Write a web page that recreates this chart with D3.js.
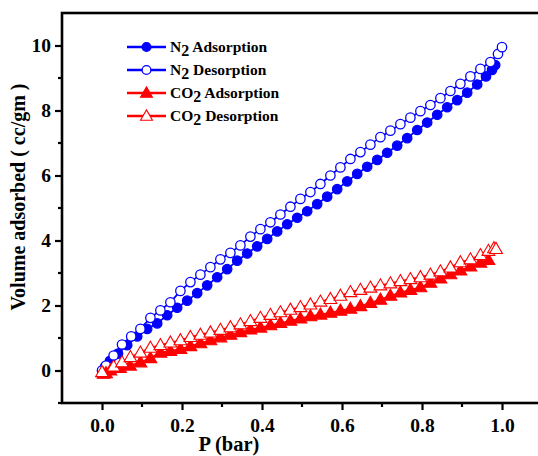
<!DOCTYPE html>
<html>
<head>
<meta charset="utf-8">
<script src="https://cdn.jsdelivr.net/npm/d3@7"></script>
<style>
  body { margin: 0; background: #fff; }
  svg { display: block; }
  text { font-family: "Liberation Serif", "Times New Roman", serif; font-weight: bold; }
</style>
</head>
<body>
<div id="chart"></div>
<script>
// N2 adsorption (filled circles)
const n2AdsP = [0.003, 0.008, 0.02, 0.04, 0.063, 0.088, 0.113, 0.138, 0.163, 0.188, 0.213, 0.238, 0.263, 0.288, 0.313, 0.338, 0.363, 0.388, 0.413, 0.438, 0.463, 0.488, 0.513, 0.538, 0.563, 0.588, 0.613, 0.638, 0.663, 0.688, 0.713, 0.738, 0.763, 0.788, 0.813, 0.838, 0.863, 0.888, 0.913, 0.938, 0.96, 0.975, 0.983];
const n2AdsV = [0.02, 0.12, 0.3, 0.52, 0.78, 1.05, 1.28, 1.45, 1.7, 1.93, 2.15, 2.38, 2.62, 2.87, 3.12, 3.38, 3.6, 3.82, 4.05, 4.28, 4.5, 4.7, 4.9, 5.12, 5.35, 5.58, 5.82, 6.05, 6.27, 6.48, 6.7, 6.92, 7.15, 7.4, 7.63, 7.87, 8.1, 8.32, 8.55, 8.8, 9.05, 9.25, 9.4];

// N2 desorption (open circles)
const n2DesP = [0.0, 0.01, 0.029, 0.05, 0.073, 0.096, 0.121, 0.146, 0.171, 0.196, 0.221, 0.246, 0.271, 0.296, 0.321, 0.346, 0.371, 0.396, 0.421, 0.446, 0.471, 0.496, 0.521, 0.546, 0.571, 0.596, 0.621, 0.646, 0.671, 0.696, 0.721, 0.746, 0.771, 0.796, 0.821, 0.846, 0.871, 0.896, 0.921, 0.946, 0.971, 0.99, 1.0];
const n2DesV = [0.0, 0.15, 0.46, 0.8, 1.05, 1.28, 1.62, 1.85, 2.1, 2.45, 2.72, 2.95, 3.18, 3.42, 3.62, 3.85, 4.12, 4.35, 4.56, 4.8, 5.04, 5.28, 5.49, 5.74, 6.0, 6.25, 6.51, 6.72, 6.95, 7.18, 7.38, 7.58, 7.78, 7.98, 8.17, 8.38, 8.6, 8.82, 9.05, 9.28, 9.49, 9.74, 9.95];

// CO2 adsorption (filled triangles)
const co2AdsP = [0.004, 0.01, 0.021, 0.045, 0.07, 0.096, 0.121, 0.146, 0.171, 0.196, 0.221, 0.246, 0.271, 0.296, 0.321, 0.346, 0.371, 0.396, 0.421, 0.446, 0.471, 0.496, 0.521, 0.546, 0.571, 0.596, 0.621, 0.646, 0.671, 0.696, 0.721, 0.746, 0.771, 0.796, 0.821, 0.846, 0.871, 0.896, 0.921, 0.946, 0.966];
const co2AdsV = [-0.1, -0.08, 0.0, 0.08, 0.15, 0.25, 0.38, 0.55, 0.6, 0.66, 0.75, 0.84, 0.93, 1.02, 1.1, 1.18, 1.26, 1.32, 1.39, 1.46, 1.53, 1.6, 1.67, 1.72, 1.78, 1.84, 1.9, 1.98, 2.08, 2.18, 2.3, 2.4, 2.48, 2.56, 2.7, 2.83, 2.96, 3.08, 3.2, 3.32, 3.4];

// CO2 desorption (open triangles)
const co2DesP = [0.0, 0.029, 0.05, 0.071, 0.096, 0.121, 0.146, 0.171, 0.196, 0.221, 0.246, 0.271, 0.296, 0.321, 0.346, 0.371, 0.396, 0.421, 0.446, 0.471, 0.496, 0.521, 0.546, 0.571, 0.596, 0.621, 0.646, 0.671, 0.696, 0.721, 0.746, 0.771, 0.796, 0.821, 0.846, 0.871, 0.896, 0.921, 0.946, 0.966, 0.98, 0.985];
const co2DesV = [-0.05, 0.12, 0.25, 0.41, 0.55, 0.7, 0.78, 0.86, 0.93, 1.03, 1.1, 1.17, 1.25, 1.33, 1.42, 1.52, 1.62, 1.71, 1.79, 1.87, 1.95, 2.03, 2.12, 2.2, 2.3, 2.41, 2.48, 2.55, 2.62, 2.68, 2.75, 2.81, 2.87, 2.95, 3.05, 3.17, 3.33, 3.42, 3.55, 3.68, 3.76, 3.74];

const xMajor = [0.0, 0.2, 0.4, 0.6, 0.8, 1.0];
const xMinor = [0.1, 0.3, 0.5, 0.7, 0.9];
const yMajor = [0, 2, 4, 6, 8, 10];
const yMinor = [-1, 1, 3, 5, 7, 9];

const series = [
  { name: "N", sub: "2", rest: " Adsorption", P: n2AdsP, V: n2AdsV, color: "#0000ff", shape: "circle", filled: true },
  { name: "N", sub: "2", rest: " Desorption", P: n2DesP, V: n2DesV, color: "#0000ff", shape: "circle", filled: false },
  { name: "CO", sub: "2", rest: " Adsorption", P: co2AdsP, V: co2AdsV, color: "#ff0000", shape: "triangle", filled: true },
  { name: "CO", sub: "2", rest: " Desorption", P: co2DesP, V: co2DesV, color: "#ff0000", shape: "triangle", filled: false }
];

const W = 538, H = 456;
const margin = { left: 62, top: 13, right: -4, bottom: 53 };

const svg = d3.select("#chart").append("svg")
  .attr("width", W)
  .attr("height", H);

const x = d3.scaleLinear().domain([-0.1, 1.1]).range([margin.left, W - margin.right]);
const y = d3.scaleLinear().domain([-1, 11]).range([H - margin.bottom, margin.top]);

function drawMarker(g, s, cx, cy, size) {
  if (s.shape === "circle") {
    g.append("circle")
      .attr("cx", cx).attr("cy", cy).attr("r", size)
      .attr("fill", s.filled ? s.color : "#fff")
      .attr("stroke", s.color)
      .attr("stroke-width", 1.3);
  } else {
    const sym = d3.symbol().type(d3.symbolTriangle).size(size * size * 3.2);
    g.append("path")
      .attr("transform", `translate(${cx},${cy + 0.8})`)
      .attr("d", sym())
      .attr("fill", s.filled ? s.color : "#fff")
      .attr("stroke", s.color)
      .attr("stroke-width", 1.1);
  }
}

// 数据曲线
const plot = svg.append("g");
series.forEach(s => {
  const pts = s.P.map((p, i) => [p, s.V[i]]);
  const line = d3.line().x(d => x(d[0])).y(d => y(d[1]));
  plot.append("path")
    .attr("d", line(pts))
    .attr("fill", "none")
    .attr("stroke", s.color)
    .attr("stroke-width", 1.8);
});
series.forEach(s => {
  const g = plot.append("g");
  s.P.forEach((p, i) => drawMarker(g, s, x(p), y(s.V[i]), 4.7));
});

// 坐标轴
const axisStroke = 2.6;
const xAxis = svg.append("g")
  .attr("transform", `translate(0,${y(-1)})`)
  .call(d3.axisBottom(x).tickValues(xMajor).tickSize(7).tickPadding(8).tickFormat(d3.format(".1f")));
xAxis.selectAll("text").attr("font-size", 19.5).attr("fill", "#000").attr("font-family", "Liberation Serif, serif").attr("font-weight", "bold");
xAxis.select(".domain").remove();
xAxis.selectAll("line").attr("stroke-width", 2.2);
svg.append("g")
  .selectAll("line").data(xMinor).join("line")
  .attr("x1", d => x(d)).attr("x2", d => x(d))
  .attr("y1", y(-1)).attr("y2", y(-1) + 4)
  .attr("stroke", "#000").attr("stroke-width", 2.2);

const yAxis = svg.append("g")
  .attr("transform", `translate(${x(-0.1)},0)`)
  .call(d3.axisLeft(y).tickValues(yMajor).tickSize(7).tickPadding(4));
yAxis.selectAll("text").attr("font-size", 19.5).attr("fill", "#000").attr("font-family", "Liberation Serif, serif").attr("font-weight", "bold");
yAxis.select(".domain").remove();
yAxis.selectAll("line").attr("stroke-width", 2.2);
svg.append("g")
  .selectAll("line").data(yMinor).join("line")
  .attr("x1", x(-0.1) - 4).attr("x2", x(-0.1))
  .attr("y1", d => y(d)).attr("y2", d => y(d))
  .attr("stroke", "#000").attr("stroke-width", 2.2);

// 边框
svg.append("rect")
  .attr("x", x(-0.1)).attr("y", y(11))
  .attr("width", x(1.1) - x(-0.1))
  .attr("height", y(-1) - y(11))
  .attr("fill", "none")
  .attr("stroke", "#000")
  .attr("stroke-width", axisStroke);

// 轴标题
svg.append("text")
  .attr("x", 229).attr("y", 451)
  .attr("text-anchor", "middle")
  .attr("font-size", 20.5)
  .text("P (bar)");

svg.append("text")
  .attr("transform", "translate(25,197) rotate(-90)")
  .attr("text-anchor", "middle")
  .attr("font-size", 20)
  .text("Volume adsorbed ( cc/gm )");

// 图例
const legend = svg.append("g");
const legendY = [47, 70, 93, 116];
series.forEach((s, i) => {
  const ly = legendY[i];
  legend.append("line")
    .attr("x1", 127).attr("x2", 166)
    .attr("y1", ly).attr("y2", ly)
    .attr("stroke", s.color).attr("stroke-width", 2.6);
  drawMarker(legend, s, 146.5, ly, 4.4);
  const t = legend.append("text")
    .attr("x", 170).attr("y", ly + 5)
    .attr("font-size", 15.5);
  t.append("tspan").text(s.name);
  t.append("tspan").attr("dy", 4).attr("font-size", 16).text(s.sub);
  t.append("tspan").attr("dy", -4).text(s.rest);
});
</script>
</body>
</html>
